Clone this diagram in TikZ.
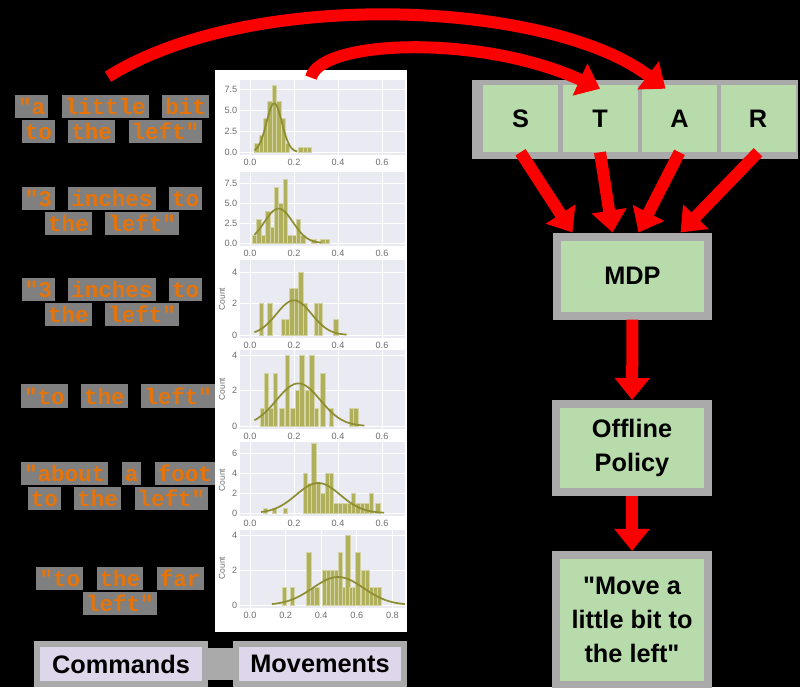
\documentclass[tikz,border=0pt]{standalone}
\usepackage{fontspec}
\setmainfont{Liberation Sans}[Ligatures=TeXOff]
\setsansfont{Liberation Sans}[Ligatures=TeXOff]
\newfontfamily\monofont{Liberation Mono}[Ligatures=TeXOff]
\usetikzlibrary{arrows.meta}

\definecolor{boxgreen}{RGB}{183,219,171}
\definecolor{boxgray}{RGB}{170,170,170}
\definecolor{lavender}{RGB}{222,214,234}
\definecolor{phraseorange}{RGB}{230,116,8}
\definecolor{hlgray}{RGB}{128,128,128}
\definecolor{plotbg}{RGB}{234,234,242}
\definecolor{barolive}{RGB}{176,176,92}
\definecolor{baredge}{RGB}{212,212,165}
\definecolor{kdeolive}{RGB}{140,140,48}
\definecolor{tickgray}{RGB}{110,110,110}
\definecolor{arrowred}{RGB}{250,0,0}

\setlength{\fboxsep}{2.2pt}
\newcommand\hl[1]{\colorbox{hlgray}{\vphantom{lf}#1}}

\tikzset{
  box/.style={draw=boxgray, line width=0.2cm, fill=boxgreen, align=center, inner sep=0pt,
    font=\fontsize{18}{24}\selectfont\bfseries},
  cell/.style={fill=boxgreen, minimum width=1.875cm, minimum height=1.675cm, inner sep=0pt,
    font=\fontsize{18}{24}\selectfont\bfseries},
  tag/.style={draw=boxgray, line width=0.15cm, fill=lavender, minimum width=4.2cm,
    minimum height=1cm, inner sep=0pt, font=\fontsize{18}{22}\selectfont\bfseries},
  phrase/.style={text=phraseorange, align=center, inner sep=0pt,
    font=\fontsize{16}{17.7}\selectfont\monofont\bfseries},
  link/.style={arrowred, line width=0.3cm, -{Triangle[width=0.85cm,length=0.55cm]}},
  ticklabel/.style={text=tickgray, font=\fontsize{6.5}{7}\selectfont, inner sep=1pt},
  histbar/.style={fill=barolive, draw=baredge, line width=0.3pt},
  kde/.style={draw=kdeolive, line width=1.2pt},
  gridline/.style={draw=white, line width=0.6pt}
}

% one seaborn-like subplot: top, zero line, px per count, y ticks, bars x/h, mean, sd, peak
\newcommand\xs{220}
\newcommand\xtk{0.0,0.2,0.4,0.6}
\newcommand\subplot[8]{%
  \fill[plotbg] (240,#1) rectangle (405,#2+3);
  \foreach \v in \xtk {
    \draw[gridline] (250+\xs*\v,#1) -- (250+\xs*\v,#2+3);
    \node[ticklabel] at (250+\xs*\v,#2+10) {\v};
  }
  \foreach \c in {#4} {
    \draw[gridline] (240,#2-#3*\c) -- (405,#2-#3*\c);
    \node[ticklabel, anchor=east] at (239,#2-#3*\c) {\c};
  }
  \foreach \bx/\bh in {#5}
    \draw[histbar] (250+\xs*\bx-2.2,#2) rectangle (250+\xs*\bx+2.2,#2-#3*\bh);
  \pgfmathsetmacro\kdelo{max(0.02,#6-2.6*#7)}
  \pgfmathsetmacro\kdehi{min(155/\xs,#6+3*#7)}
  \draw[kde] plot[domain=\kdelo:\kdehi, samples=60, smooth]
    ({250+\xs*\x},{#2-#3*#8*exp(-0.5*((\x-#6)/#7)^2)});
}

\begin{document}
\begin{tikzpicture}[x=0.025cm, y=-0.025cm]
\useasboundingbox (0,0) rectangle (800,687);
\fill[black] (0,0) rectangle (800,687);

% commands
\node[phrase] (l1) at (112,119) {\hl{"a} \hl{little} \hl{bit}\\\hl{to} \hl{the} \hl{left"}};
\node[phrase] (l2) at (112,211) {\hl{"3} \hl{inches} \hl{to}\\\hl{the} \hl{left"}};
\node[phrase] (l3) at (112,302) {\hl{"3} \hl{inches} \hl{to}\\\hl{the} \hl{left"}};
\node[phrase] (l4) at (118,396) {\hl{"to} \hl{the} \hl{left"}};
\node[phrase] (l5) at (118,486) {\hl{"about} \hl{a} \hl{foot}\\\hl{to} \hl{the} \hl{left"}};
\node[phrase] (l6) at (120,591) {\hl{"to} \hl{the} \hl{far}\\\hl{left"}};

% movements
\node[fill=white, minimum width=4.8cm, minimum height=14.05cm, inner sep=0pt] (hist) at (311,351) {};
\subplot{80}{152}{8.4}{0.0,2.5,5.0,7.5}
  {0.03/1,0.05/2,0.07/4,0.09/6,0.11/8,0.13/6,0.15/4,0.17/1,0.23/0.6,0.25/0.6,0.27/0.6}
  {0.11}{0.035}{5.8}
\subplot{172}{243}{8}{0.0,2.5,5.0,7.5}
  {0.02/1,0.04/3,0.06/1,0.08/4,0.10/2,0.12/7,0.14/5,0.16/8,0.18/1,0.20/1,0.22/3,0.24/1,0.29/0.5,0.33/0.5,0.35/0.5}
  {0.13}{0.065}{4.3}
\subplot{260}{335}{15.75}{0,2,4}
  {0.05/2,0.09/2,0.15/1,0.17/1,0.19/3,0.21/3,0.23/4,0.25/2,0.30/2,0.32/2,0.39/1}
  {0.2}{0.08}{2.2}
\subplot{350}{426}{17.75}{0,2,4}
  {0.055/1,0.075/3,0.095/1,0.115/3,0.145/1,0.17/4,0.195/1,0.215/2,0.235/4,0.26/2,0.28/4,0.30/1,0.33/3,0.37/1,0.46/1,0.48/1}
  {0.22}{0.1}{2.4}
\subplot{442}{513}{10}{0,2,4,6}
  {0.07/0.5,0.11/0.5,0.16/0.5,0.25/4,0.27/3,0.29/7,0.31/3,0.33/2,0.35/4,0.37/4,0.39/1,0.41/1,0.43/1,0.45/1,0.47/2,0.49/1,0.51/1,0.53/1,0.55/2,0.58/1}
  {0.31}{0.1}{3}
\renewcommand\xs{178}
\renewcommand\xtk{0.0,0.2,0.4,0.6,0.8}
\subplot{530}{605}{17.5}{0,2,4}
  {0.193/1,0.237/1,0.33/3,0.352/1,0.374/1,0.418/2,0.44/2,0.462/2,0.484/2,0.506/3,0.528/1,0.55/4,0.572/1,0.589/1,0.605/3,0.638/2,0.66/2,0.682/1,0.704/1,0.726/1}
  {0.495}{0.143}{1.6}
\node[ticklabel, rotate=90, font=\fontsize{6}{7}\selectfont] at (222,299) {Count};
\node[ticklabel, rotate=90, font=\fontsize{6}{7}\selectfont] at (222,389) {Count};
\node[ticklabel, rotate=90, font=\fontsize{6}{7}\selectfont] at (222,480) {Count};
\node[ticklabel, rotate=90, font=\fontsize{6}{7}\selectfont] at (222,568) {Count};

% legend tags
\node[tag] (cmd) at (121,664) {Commands};
\node[tag] (mov) at (320,664) {Movements};
\draw[boxgray, line width=0.8cm] (cmd) -- (mov);

% STAR row
\node[fill=boxgray, minimum width=8.15cm, minimum height=1.975cm, inner sep=0pt] (star) at (635,119.5) {};
\node[cell] (s) at (520.5,118.5) {S};
\node[cell] (t) at (600,118.5) {T};
\node[cell] (a) at (679.5,118.5) {A};
\node[cell] (r) at (758,118.5) {R};

\node[box, minimum width=3.775cm, minimum height=1.975cm] (mdp) at (632.5,276) {MDP};
\node[box, minimum width=3.8cm, minimum height=2.2cm] (pol) at (632,448) {Offline\\Policy};
\node[box, minimum width=3.8cm, minimum height=3.25cm] (out) at (632,620) {"Move a\\little bit to\\the left"};

% arrows
\draw[link] ([xshift=-0.1cm,yshift=0.45cm]l1.north) .. controls +(143,-90) and +(-115,-88) .. ([xshift=-0.35cm,yshift=-0.1cm]a.north);
\draw[link] ([yshift=-0.2cm]hist.north) .. controls +(9,-38) and +(-120,-55) .. ([yshift=-0.1cm]t.north);
\draw[link] (s.south) -- ([xshift=-1.5cm]mdp.north);
\draw[link] (t.south) -- ([xshift=-0.5cm]mdp.north);
\draw[link] (a.south) -- ([xshift=0.15cm]mdp.north);
\draw[link] (r.south) -- ([xshift=1.2cm]mdp.north);
\draw[link] (mdp) -- (pol);
\draw[link] (pol) -- (out);
\end{tikzpicture}
\end{document}
